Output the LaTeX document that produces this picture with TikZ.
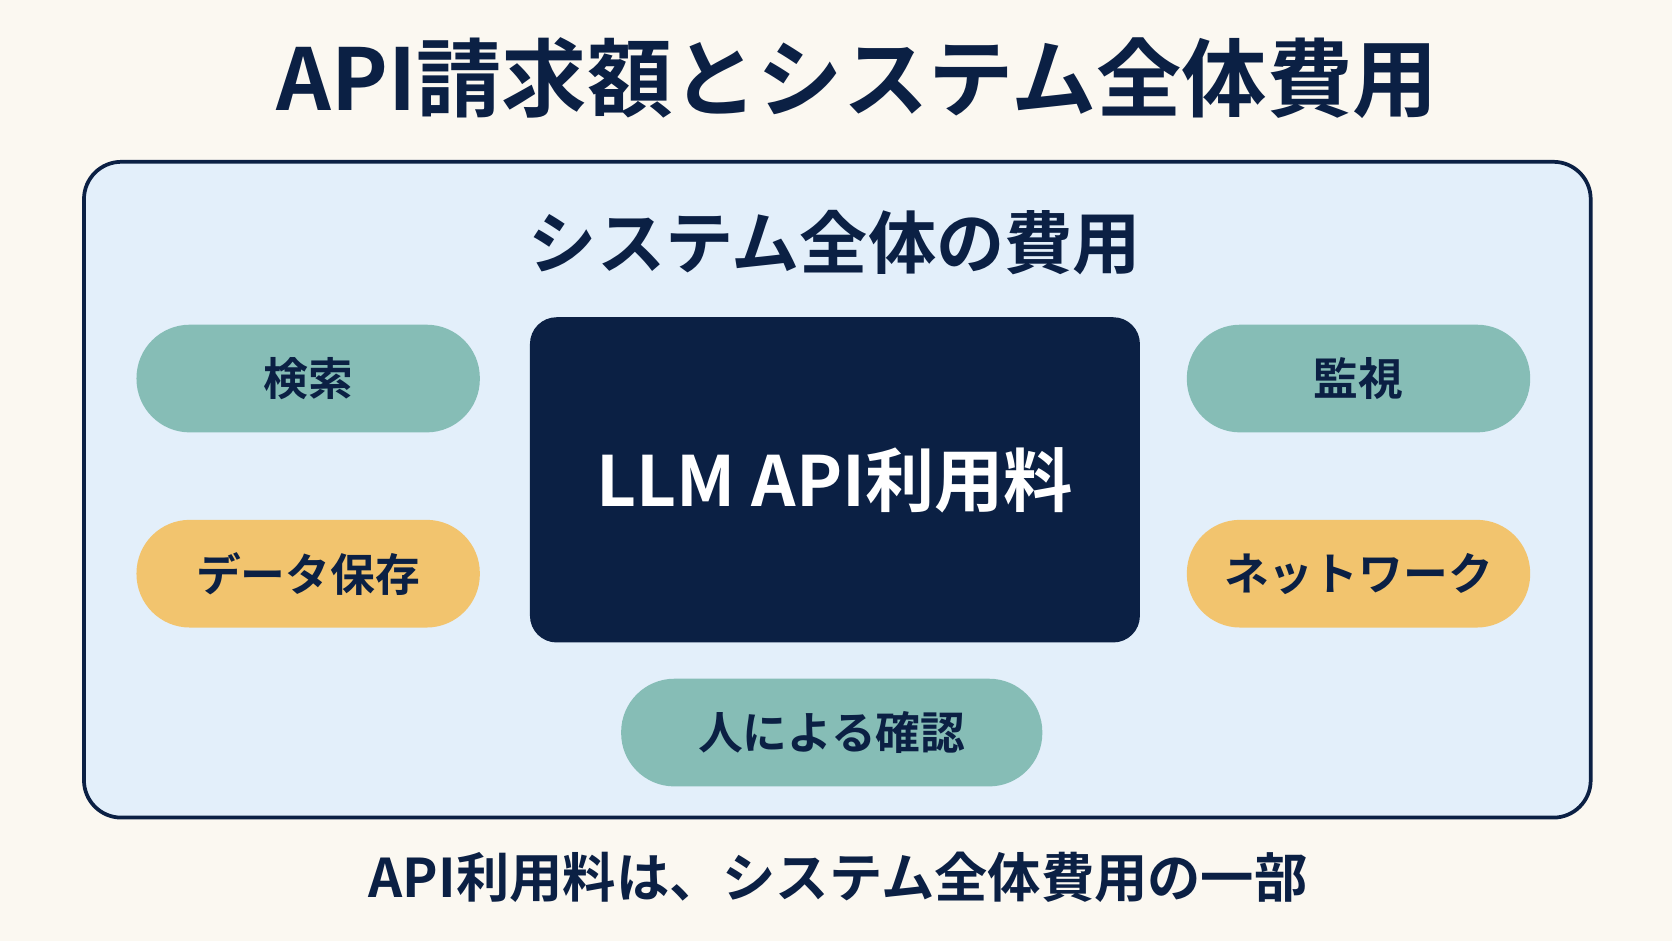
\documentclass[tikz,border=0pt]{standalone}
\usepackage{fontspec}
\setmainfont{Noto Sans CJK JP}[BoldFont={Noto Sans CJK JP Bold}]
\definecolor{bg}{HTML}{FBF8F1}
\definecolor{navy}{HTML}{0B2044}
\definecolor{panel}{HTML}{E3EFFA}
\definecolor{teal}{HTML}{86BDB6}
\definecolor{gold}{HTML}{F2C46E}
\begin{document}
\begin{tikzpicture}[x=1pt,y=-1pt,
 pill/.style={rounded corners=50pt,minimum width=322pt,minimum height=101pt,draw=none,font=\fontsize{42}{44}\selectfont\bfseries,text=navy},
 lbl/.style={text=navy,font=\bfseries}]
\fill[bg] (0,0) rectangle (1568,882);
\useasboundingbox (0,0) rectangle (1568,882);
\node[lbl,font=\fontsize{80}{86}\selectfont\bfseries] (title) at (804,73) {API請求額とシステム全体費用};
\node[draw=navy,line width=3.5pt,fill=panel,rounded corners=35pt,minimum width=1413pt,minimum height=615pt,anchor=north west] (outer) at (77,150) {};
\node[lbl,font=\fontsize{64}{68}\selectfont\bfseries] (sub) at (783,228) {システム全体の費用};
\node[fill=navy,rounded corners=25pt,minimum width=572pt,minimum height=305pt,text=white,font=\fontsize{65}{70}\selectfont\bfseries] (llm) at (783,450) {LLM API利用料};
\node[pill,fill=teal] (search) at (289,355) {検索};
\node[pill,fill=gold] (data) at (289,538) {データ保存};
\node[pill,fill=teal] (mon) at (1274,355) {監視};
\node[pill,fill=gold] (net) at (1274,538) {ネットワーク};
\node[pill,fill=teal,minimum width=395pt] (human) at (780,687) {人による確認};
\node[lbl,font=\fontsize{50}{54}\selectfont\bfseries] (foot) at (786,823) {API利用料は、システム全体費用の一部};
\end{tikzpicture}
\end{document}
